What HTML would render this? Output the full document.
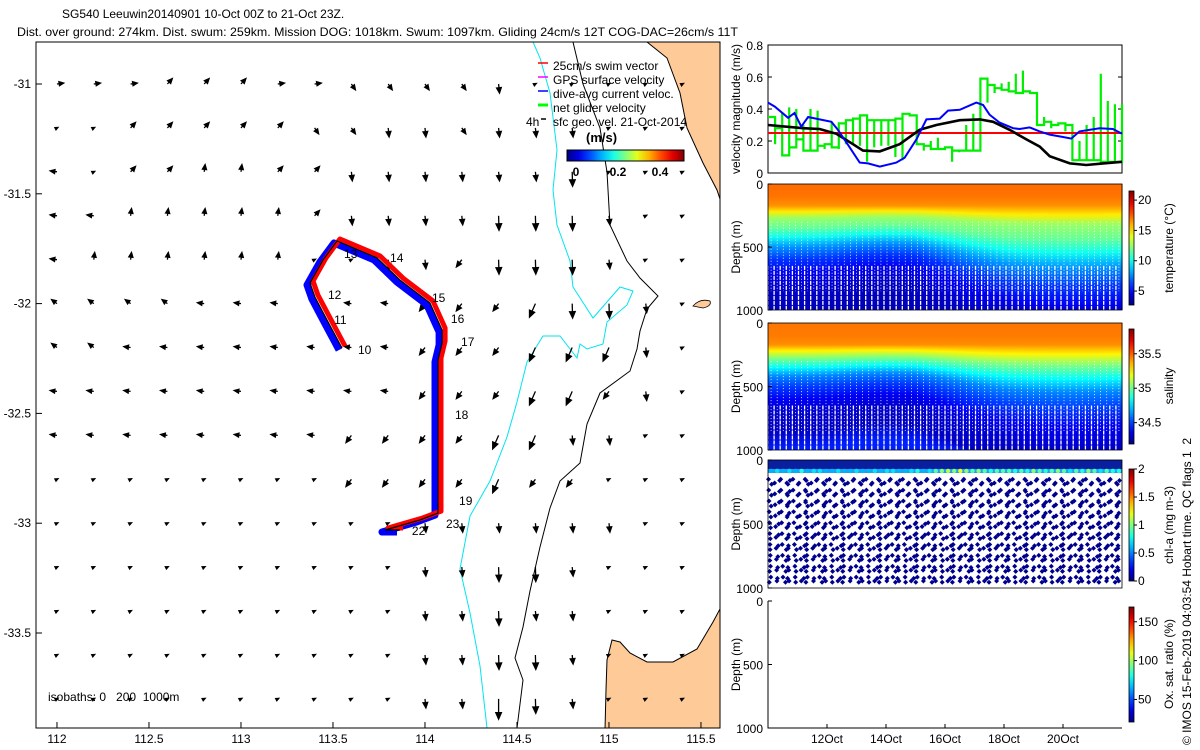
<!DOCTYPE html>
<html><head><meta charset="utf-8"><title>SG540 Leeuwin glider summary</title>
<style>
html,body{margin:0;padding:0;background:#fff;}
svg{display:block;}
text{font-family:"Liberation Sans",Arial,sans-serif;}
</style></head>
<body>
<svg id="chart" xmlns="http://www.w3.org/2000/svg" width="1200" height="750" viewBox="0 0 1200 750">
<defs>
  <clipPath id="mapClip"><rect x="36" y="42" width="684" height="686"/></clipPath>
</defs>
<rect x="0" y="0" width="1200" height="750" fill="#fff"/>
<text x="62" y="18" font-size="12">SG540 Leeuwin20140901 10-Oct 00Z to 21-Oct 23Z.</text>
<text x="17" y="36" font-size="12" textLength="721" lengthAdjust="spacingAndGlyphs">Dist. over ground: 274km. Dist. swum: 259km. Mission DOG: 1018km. Swum: 1097km. Gliding 24cm/s 12T COG-DAC=26cm/s 11T</text>

<g id="map">
 <g clip-path="url(#mapClip)">
  <polygon fill="#fdca98" stroke="#000" stroke-width="1" points="647,42 667,58 680,93 687,128 703,163 717,190 720,199 722,199 722,40 647,40"/>
  <polygon fill="#fdca98" stroke="#000" stroke-width="1" points="612,640 620,642 630,653 647,662 673,662 697,649 713,622 720,609 722,609 722,730 605,730 606,690 607,660"/>
  <path d="M693,306 Q700,298 710,301 Q712,306 703,308 Z" fill="#fdca98" stroke="#000" stroke-width="0.8"/>
  <polyline fill="none" stroke="#000" stroke-width="1" points="573,42 583,84 600,128 607,172 610,225 627,261 640,278 658,296 647,309 640,331 637,349 630,371 600,393 587,424 580,463 560,481 550,508 540,547 530,591 523,627 515,658 523,680 517,728"/>
  <polyline fill="none" stroke="#00e5ee" stroke-width="1" points="533,42 540,58 550,93 557,150 553,190 557,225 570,261 573,287 593,318 620,287 633,291 627,305 607,322 603,344 587,349 580,344 577,358 560,336 543,336 527,362 517,402 507,437 490,481 470,516 460,569 470,613 480,666 487,728"/>
  <g id="arrows"></g>
  <g id="track"></g>
 </g>
 <rect x="36" y="42" width="684" height="686" fill="none" stroke="#000" stroke-width="1"/>
 <g id="mapAxes"></g>
 <text x="48" y="701" font-size="12" style="white-space:pre" xml:space="preserve">isobaths: 0   200  1000m</text>
 <text x="526" y="126" font-size="12">4h</text>
 <g>
  <line x1="538" y1="63" x2="548" y2="63" stroke="#f00" stroke-width="1.5"/>
  <text x="553" y="70" font-size="12">25cm/s swim vector</text>
  <line x1="538" y1="77" x2="548" y2="77" stroke="#f0f" stroke-width="1.5"/>
  <text x="553" y="84" font-size="12">GPS surface velocity</text>
  <line x1="538" y1="91" x2="548" y2="91" stroke="#00f" stroke-width="1.5"/>
  <text x="553" y="98" font-size="12">dive-avg current veloc.</text>
  <line x1="538" y1="105" x2="548" y2="105" stroke="#0f0" stroke-width="3"/>
  <text x="553" y="112" font-size="12">net glider velocity</text>
  <line x1="541" y1="119" x2="546" y2="119" stroke="#000" stroke-width="1.5"/>
  <text x="553" y="126" font-size="12">sfc geo. vel. 21-Oct-2014</text>
  <text x="586" y="142" font-size="13" font-weight="bold">(m/s)</text>
  <rect id="speedBar" x="567" y="150" width="117" height="11" stroke="#000" stroke-width="1"/>
  <text x="576" y="176" font-size="12" font-weight="bold" text-anchor="middle">0</text>
  <text x="618" y="176" font-size="12" font-weight="bold" text-anchor="middle">0.2</text>
  <text x="660" y="176" font-size="12" font-weight="bold" text-anchor="middle">0.4</text>
 </g>
</g>

<g id="right"></g>

<text transform="translate(1191,745) rotate(-90)" font-size="12" style="white-space:pre" xml:space="preserve">© IMOS 15-Feb-2019 04:03:54 Hobart time. QC flags 1  2</text>
</svg>

<script>
// ---------------- DATA ----------------
const trackLon = [113.549,113.468,113.402,113.375,113.446,113.522,113.739,113.864,114.027,114.093,114.093,114.071,114.071,113.973,113.783,113.864];
const trackLat = [-32.202,-32.075,-31.970,-31.906,-31.801,-31.715,-31.792,-31.893,-31.997,-32.120,-32.179,-32.257,-32.954,-32.985,-33.031,-33.031];
const dayLabels = ["10","11","12","13","14","15","16","17","18","19","23","22"];
const dayLabelLon = [113.636,113.506,113.473,113.560,113.810,114.038,114.141,114.196,114.163,114.185,114.114,113.929];
const dayLabelLat = [-32.211,-32.075,-31.961,-31.774,-31.792,-31.974,-32.070,-32.175,-32.507,-32.899,-33.004,-33.036];
const geoRows = [
 "eeeaaaeebbbbs.....",
 "..aaaaabbssbsss...",
 "w.aannaassssssS...",
 "wwnnnnnassssSSSs..",
 "wnnnnnn..sscSSSs..",
 "ddddwww.wwcccCSSs.",
 "ddwwwwwwwwcccCCCs.",
 "wwwwwwwwwwcccCCcs.",
 "wwwwwwwwccccCCss..",
 "........ccccCcc...",
 "..........ssssss..",
 "..........ssSSs...",
 "..........ssSss...",
 "..........ssSSs...",
 "..........ssTSs..."
];
const geoCodeU = {".":0.02,"e":0.15,"a":0.11,"b":0.09,"s":0.02,"S":0.01,"T":0.0,"n":0.02,"w":-0.15,"d":-0.12,"c":-0.12,"C":-0.13};
const geoCodeV = {".":0.01,"e":0.02,"a":0.12,"b":-0.13,"s":-0.2,"S":-0.32,"T":-0.45,"n":0.16,"w":0.02,"d":0.09,"c":-0.16,"C":-0.3};
const dacDay = [10,10.23,10.68,10.9,11.13,11.36,11.75,12.15,12.37,12.66,13.11,13.39,13.79,14.35,14.63,15.03,15.37,15.82,16.1,16.5,17.06,17.29,17.51,17.85,18.31,18.53,18.87,19.21,19.55,20.0,20.28,20.56,21.24,21.69,22.0];
const dacVel = [0.44,0.415,0.345,0.375,0.29,0.35,0.335,0.32,0.27,0.19,0.065,0.06,0.04,0.065,0.095,0.21,0.335,0.34,0.39,0.395,0.44,0.425,0.365,0.315,0.28,0.275,0.285,0.26,0.24,0.225,0.215,0.26,0.28,0.275,0.245];
const geoDay = [10,11.19,11.75,12.32,12.88,13.22,13.79,14.46,15.14,15.71,16.5,17.18,17.63,18.19,18.76,19.21,19.55,20.23,20.79,21.36,22];
const geoVel = [0.30,0.28,0.275,0.245,0.18,0.14,0.135,0.18,0.27,0.30,0.33,0.335,0.32,0.27,0.21,0.165,0.105,0.06,0.05,0.06,0.07];
const swimVel = 0.25;
const netLevel = [0.35,0.28,0.11,0.16,0.21,0.14,0.14,0.17,0.18,0.16,0.31,0.33,0.34,0.36,0.33,0.33,0.33,0.33,0.34,0.37,0.36,0.18,0.17,0.15,0.15,0.16,0.14,0.14,0.14,0.14,0.59,0.55,0.53,0.52,0.51,0.50,0.51,0.50,0.30,0.32,0.30,0.31,0.30,0.08,0.08,0.08,0.08,0.07,0.07,0.07];
const netTip = [0.18,0.38,0.41,0.40,0.30,0.40,0.39,0.15,0.32,0.15,0.18,0.18,0.17,0.07,0.16,0.17,0.17,0.10,0.08,0.36,0.18,0.14,0.20,0.22,0.15,0.07,0.13,0.30,0.37,0.14,0.44,0.50,0.56,0.57,0.62,0.64,0.50,0.30,0.35,0.28,0.30,0.26,0.20,0.20,0.30,0.35,0.62,0.45,0.43,0.43];
const velTicks = [0,0.2,0.4,0.6,0.8];
const velTickLabels = ["0","0.2","0.4","0.6","0.8"];
const dateTicks = [12,14,16,18,20];
const dateTickLabels = ["12Oct","14Oct","16Oct","18Oct","20Oct"];
const profDepth = [0,100,170,220,270,350,420,500,600,700,850,1000];
const tempProfile = [17.2,17.0,16.5,14.8,12.6,11.6,10.0,7.8,6.0,4.8,4.0,3.7];
const salProfile = [35.46,35.45,35.42,35.25,35.05,34.82,34.62,34.5,34.38,34.32,34.3,34.45];
const thermoShiftByDay = [0,0,-10,-30,-40,-30,30,100,160,190,200,200,190];
const chlBand = [0.6,0.7,0.6,0.7,0.6,0.8,0.6,0.7,0.7,0.6,0.6,0.7,0.6,0.6,0.7,0.6,0.6,0.7,0.6,0.7,0.7,0.6,0.6,0.7,0.8,0.6,0.7,0.9,1.0,1.1,1.0,1.2,1.0,0.9,1.0,0.9,0.8,0.9,0.9,0.9,0.8,0.9,0.8,1.0,0.9,0.8,0.9,1.0,0.9,0.7,0.9,0.8,1.0,0.9,0.7,0.9,0.8,0.8];
const nDives = 58;

// ---------------- HELPERS ----------------
const NS = 'http://www.w3.org/2000/svg';
const svg = document.getElementById('chart');
const defs = svg.querySelector('defs');
function el(tag, attrs, parent) {
  const e = document.createElementNS(NS, tag);
  for (const k in attrs) e.setAttribute(k, attrs[k]);
  (parent || svg).appendChild(e);
  return e;
}
function clamp(v){return Math.max(0,Math.min(1,v));}
function jet(t){
  t = clamp(t);
  const r = clamp(1.5-Math.abs(4*t-3)), g = clamp(1.5-Math.abs(4*t-2)), b = clamp(1.5-Math.abs(4*t-1));
  return 'rgb('+Math.round(r*255)+','+Math.round(g*255)+','+Math.round(b*255)+')';
}
function interp(xs, ys, x){
  if (x<=xs[0]) return ys[0];
  for (let i=1;i<xs.length;i++){ if (x<=xs[i]) { const f=(x-xs[i-1])/(xs[i]-xs[i-1]); return ys[i-1]+f*(ys[i]-ys[i-1]); } }
  return ys[ys.length-1];
}
const mapX = lon => 36 + (lon - 111.886) * 184;
const mapY = lat => 84 + (-31 - lat) * 219.6;
const PX0 = 768, PX1 = 1122;
const tX = day => PX0 + (day - 10) * (PX1 - PX0) / 12;
const vY = v => 173 - v * 160;

const sg = el('linearGradient', {id:'gSpeed', x1:'0', x2:'1', y1:'0', y2:'0'}, defs);
for (let i=0;i<=10;i++){ el('stop', {offset:(i/10), 'stop-color':jet(i/10)}, sg); }
document.getElementById('speedBar').setAttribute('fill','url(#gSpeed)');
const vg = el('linearGradient', {id:'gJetV', x1:'0', x2:'0', y1:'1', y2:'0'}, defs);
for (let i=0;i<=10;i++){ el('stop', {offset:(i/10), 'stop-color':jet(i/10)}, vg); }

// ---------------- MAP AXES ----------------
const mapAxes = document.getElementById('mapAxes');
const lonTicks = [112,112.5,113,113.5,114,114.5,115,115.5];
const lonTickLabels = ["112","112.5","113","113.5","114","114.5","115","115.5"];
const latTicks = [-31,-31.5,-32,-32.5,-33,-33.5];
const latTickLabels = ["-31","-31.5","-32","-32.5","-33","-33.5"];
lonTicks.forEach((lon,i)=>{
  const x = mapX(lon);
  const t = el('line',{x1:x,x2:x,y1:728,y2:722,stroke:'#000','stroke-width':1},mapAxes);
  
  
  const lb = el('text',{x:x,y:743,'font-size':12,'text-anchor':'middle'},mapAxes);
  lb.textContent = lonTickLabels[i];
  
  
});
latTicks.forEach((lat,i)=>{
  const y = mapY(lat);
  const t = el('line',{x1:36,x2:42,y1:y,y2:y,stroke:'#000','stroke-width':1},mapAxes);
  
  
  const lb = el('text',{x:31,y:y+4,'font-size':12,'text-anchor':'end'},mapAxes);
  lb.textContent = latTickLabels[i];
  
  
});

// ---------------- ARROWS ----------------
const arrowsG = document.getElementById('arrows');
const arrowScale = 45;
geoRows.forEach((row, r)=>{
  for (let c=0;c<row.length;c++){
    const code = row[c];
    if (!(code in geoCodeU)) continue;
    const lon = 112 + 0.2*c, lat = -31 - 0.2*r;
    const x0 = mapX(lon), y0 = mapY(lat);
    const u = geoCodeU[code], v = geoCodeV[code];
    const x1 = x0 + u*arrowScale, y1 = y0 - v*arrowScale;
    const len = Math.hypot(x1-x0,y1-y0) || 1;
    const ux=(x1-x0)/len, uy=(y1-y0)/len;
    const h = Math.min(4, 1.5+len*0.2);
    const a = el('path',{d:'M'+x0.toFixed(1)+','+y0.toFixed(1)+'L'+x1.toFixed(1)+','+y1.toFixed(1)+
      'M'+x1.toFixed(1)+','+y1.toFixed(1)+'L'+(x1-ux*h*1.6-uy*h*0.7).toFixed(1)+','+(y1-uy*h*1.6+ux*h*0.7).toFixed(1)+
      'L'+(x1-ux*h*1.6+uy*h*0.7).toFixed(1)+','+(y1-uy*h*1.6-ux*h*0.7).toFixed(1)+'Z',
      stroke:'#000','stroke-width':1.3,fill:'#000'},arrowsG);
    
    
  }
});

// ---------------- TRACK ----------------
const trackG = document.getElementById('track');
const trackPts = trackLon.map((lon,i)=> mapX(lon).toFixed(1)+','+mapY(trackLat[i]).toFixed(1)).join(' ');
const tb = el('polyline',{points:trackPts,fill:'none',stroke:'#0000ff','stroke-width':7,'stroke-linejoin':'round',transform:'translate(-3,2)'},trackG);


const tr = el('polyline',{points:trackPts,fill:'none',stroke:'#ff0000','stroke-width':5,'stroke-linejoin':'round',transform:'translate(3,-2)'},trackG);


const tk = el('polyline',{points:trackPts,fill:'none',stroke:'#000','stroke-width':1.2},trackG);


dayLabels.forEach((d,i)=>{
  const t = el('text',{x:mapX(dayLabelLon[i]),y:mapY(dayLabelLat[i])+4,'font-size':12},trackG);
  t.textContent = d;
  
  
});

// ---------------- RIGHT PANELS ----------------
const right = document.getElementById('right');
function ylabel(text, x, yc, name){
  const t = el('text',{transform:'translate('+x+','+yc+') rotate(-90)','font-size':12,'text-anchor':'middle'},right);
  t.textContent = text;
  
  
}
function cbar(x, y0, y1, ticks, labels, vmin, vmax, name){
  const r = el('rect',{x:x,y:y0,width:5,height:y1-y0,fill:'url(#gJetV)',stroke:'#000','stroke-width':0.8},right);
  
  
  ticks.forEach((v,i)=>{
    const y = y1 - (v-vmin)/(vmax-vmin)*(y1-y0);
    const tl = el('line',{x1:x+5,x2:x+8,y1:y,y2:y,stroke:'#000'},right);
    
    
    const tt = el('text',{x:x+9,y:y+4,'font-size':12},right);
    tt.textContent = labels[i];
    
    
  });
}
function depthAxis(y0, y1, name){
  const labels=["0","500","1000"];
  [0,500,1000].forEach((d,i)=>{
    const y = y0 + d/1000*(y1-y0);
    const t = el('text',{x:763,y:y+5,'font-size':12,'text-anchor':'end'},right);
    t.textContent = labels[i];
    
    
    const tl = el('line',{x1:PX0,x2:PX0+4,y1:y,y2:y,stroke:'#000'},right);
    
    
  });
  ylabel('Depth (m)', 740, (y0+y1)/2, name+'-depth-title');
}

// Panel 1: velocity
const p1 = el('rect',{x:PX0,y:45,width:PX1-PX0,height:128,fill:'#fff',stroke:'#000','stroke-width':1},right);


velTicks.forEach((v,i)=>{
  const y=vY(v);
  const t = el('text',{x:763,y:y+5,'font-size':12,'text-anchor':'end'},right);
  t.textContent = velTickLabels[i];
  
  
  const a = el('line',{x1:PX0,x2:PX0+4,y1:y,y2:y,stroke:'#000'},right);
  
  
  const b = el('line',{x1:PX1-4,x2:PX1,y1:y,y2:y,stroke:'#000'},right);
  
  
});
ylabel('velocity magnitude (m/s)', 740, 109, 'velocity-axis-title');
const dw = 12/netLevel.length;
let gd = 'M'+tX(10)+','+vY(netLevel[0]);
netLevel.forEach((lv,i)=>{
  gd += 'H'+tX(10+(i+1)*dw).toFixed(1)+'V'+vY(netTip[i]).toFixed(1);
  if (i<netLevel.length-1) gd += 'V'+vY(netLevel[i+1]).toFixed(1);
});
const gl = el('path',{d:gd,fill:'none',stroke:'#00ee00','stroke-width':2.2},right);


const rl = el('line',{x1:PX0,x2:PX1,y1:vY(swimVel),y2:vY(swimVel),stroke:'#f00','stroke-width':2},right);


const kl = el('polyline',{points:geoDay.map((d,i)=>tX(d).toFixed(1)+','+vY(geoVel[i]).toFixed(1)).join(' '),fill:'none',stroke:'#000','stroke-width':2.6},right);


const bl = el('polyline',{points:dacDay.map((d,i)=>tX(d).toFixed(1)+','+vY(dacVel[i]).toFixed(1)).join(' '),fill:'none',stroke:'#0000ff','stroke-width':2},right);



// Section panels
const colW = (PX1-PX0)/nDives;
function section(y0, y1, prof, vmin, vmax, name){
  const g = el('g',{},right);
  
  
  for (let i=0;i<nDives;i++){
    const day = 10 + (i+0.5)*12/nDives;
    const s = interp([10,11,12,13,14,15,16,17,18,19,20,21,22], thermoShiftByDay, day);
    const gid = name+'G'+i;
    const lg = el('linearGradient',{id:gid,x1:'0',x2:'0',y1:'0',y2:'1'},defs);
    profDepth.forEach((d,k)=>{
      let z = d<=170 ? d : 170 + (d-170)*(1+s/400);
      el('stop',{offset:clamp(z/1000).toFixed(3),'stop-color':jet((prof[k]-vmin)/(vmax-vmin))},lg);
    });
    const r = el('rect',{x:(PX0+i*colW).toFixed(2),y:y0,width:(colW+0.6).toFixed(2),height:y1-y0,fill:'url(#'+gid+')'},g);
    
    
    const xg = PX0+i*colW;
    const w1 = el('line',{x1:xg.toFixed(1),x2:xg.toFixed(1),y1:y0+0.65*(y1-y0),y2:y1,stroke:'#fff','stroke-width':1.3,'stroke-dasharray':'4,1'},g);
    
    
    const w2 = el('line',{x1:(xg+colW/2).toFixed(1),x2:(xg+colW/2).toFixed(1),y1:y0+0.3*(y1-y0),y2:y0+0.85*(y1-y0),stroke:'#fff','stroke-width':0.8,'stroke-dasharray':'1,2'},g);
    
    
  }
  const f = el('rect',{x:PX0,y:y0,width:PX1-PX0,height:y1-y0,fill:'none',stroke:'#000','stroke-width':0.8},right);
  
  
  depthAxis(y0,y1,name);
}
section(184,310,tempProfile,2.7,21.5,'temperature');
cbar(1129,191,305,[5,10,15,20],["5","10","15","20"],2.7,21.5,'temperature-colorbar');
ylabel('temperature (°C)',1173,248,'temperature-colorbar-title');
section(323,450,salProfile,34.19,35.86,'salinity');
cbar(1129,329,444,[34.5,35,35.5],["34.5","35","35.5"],34.19,35.86,'salinity-colorbar');
ylabel('salinity',1173,386,'salinity-colorbar-title');

// Chl panel
const c0 = 460, c1 = 588;
const dz = z => c0 + z/1000*(c1-c0);
const band = el('rect',{x:PX0,y:c0,width:PX1-PX0,height:dz(100)-c0,fill:'#0a1ea0'},right);


const band2 = el('rect',{x:PX0,y:dz(70),width:PX1-PX0,height:dz(100)-dz(70),fill:'#1fa0e8'},right);


let dots = '';
for (let i=0;i<nDives;i++){
  const xl = PX0 + i*colW;
  for (let z=150; z<=990; z+=85){
    const xd = xl + (z/1000)*colW*0.5;
    const xu = xl + colW - (z/1000)*colW*0.5 + ((i%3)-1)*2;
    const y1 = dz(z + (i%2)*30), y2 = dz(z + 40 - (i%2)*30);
    dots += 'M'+xd.toFixed(1)+','+(y1-2.5).toFixed(1)+'l2.5,2.5l-2.5,2.5l-2.5,-2.5z';
    dots += 'M'+xu.toFixed(1)+','+(y2-2.5).toFixed(1)+'l2.5,2.5l-2.5,2.5l-2.5,-2.5z';
  }
}
const dp = el('path',{d:dots,fill:'#00008f'},right);


chlBand.forEach((v,i)=>{
  const cc = el('circle',{cx:(PX0+(i+0.5)*colW).toFixed(1),cy:dz(85).toFixed(1),r:2.2,fill:jet(v/2)},right);
  
  
});
const cf = el('rect',{x:PX0,y:c0,width:PX1-PX0,height:c1-c0,fill:'none',stroke:'#000','stroke-width':0.8},right);


depthAxis(c0,c1,'chl');
cbar(1129,469,581,[0,0.5,1,1.5,2],["0","0.5","1","1.5","2"],0,2,'chl-colorbar');
ylabel('chl-a (mg m-3)',1173,525,'chl-colorbar-title');

// Oxygen panel (empty)
const o0 = 601, o1 = 728;
const oax = el('path',{d:'M'+PX0+','+o0+'V'+o1+'H'+PX1,fill:'none',stroke:'#000','stroke-width':1},right);


depthAxis(o0,o1,'oxygen');
cbar(1129,607,722,[50,100,150],["50","100","150"],21,169,'oxygen-colorbar');
ylabel('Ox. sat. ratio (%)',1173,664,'oxygen-colorbar-title');
dateTicks.forEach((d,i)=>{
  const x = tX(d);
  const t = el('line',{x1:x,x2:x,y1:o1,y2:o1-4,stroke:'#000'},right);
  
  
  const l = el('text',{x:x,y:743,'font-size':12,'text-anchor':'middle'},right);
  l.textContent = dateTickLabels[i];
  
  
});
</script>
</body></html>
